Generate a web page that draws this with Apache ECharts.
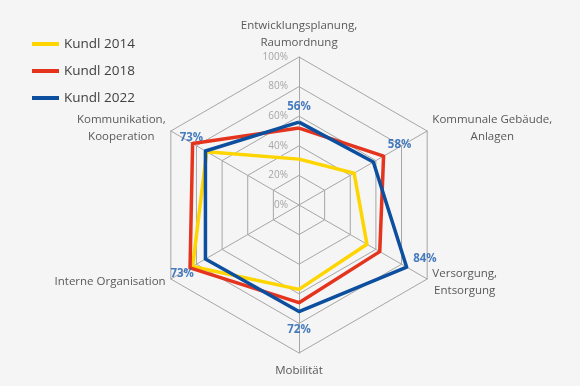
<!DOCTYPE html>
<html><head><meta charset="utf-8">
<script src="https://cdn.jsdelivr.net/npm/echarts@6/dist/echarts.min.js"></script>
<style>html,body{margin:0;padding:0;background:#f5f5f5}#c{width:580px;height:386px}</style>
</head><body><div id="c"></div>
<script>
// indicators in counter-clockwise order starting at the top
const categories = ['Entwicklungsplanung,\nRaumordnung','Kommunikation,\nKooperation','Interne Organisation','Mobilität','Versorgung,\nEntsorgung','Kommunale Gebäude,\nAnlagen'];
const seriesNames = ['Kundl 2014','Kundl 2018','Kundl 2022'];
const values2014 = [31,72,83,57,53,43];
const values2018 = [52,83,85,66,63,66];
const values2022 = [56,73,73,72,84,58];
const tickValues = [0,20,40,60,80,100];

// style only: label placement for the 2022 value labels
const labelPlacement = [
  {position:'top', offset:[0,-4]},
  {position:'top', offset:[-14,-2]},
  {position:'left', offset:[-6,15]},
  {position:'bottom', offset:[0,7]},
  {position:'right', offset:[1,-8]},
  {position:'right', offset:[9,-17]}
];
const colors = ['#FFD500','#E5341E','#0D4F9F'];
const font = 'Open Sans';

const chart = echarts.init(document.getElementById('c'));
chart.setOption({
  backgroundColor:'#f5f5f5',
  animation:false,
  color: colors,
  legend:{
    orient:'vertical', left:27, top:32, icon:'rect', itemWidth:27, itemHeight:4, itemGap:13,
    data: seriesNames,
    textStyle:{fontSize:13.5, color:'#404040', fontFamily:font}
  },
  radar:{
    center:[299,205], radius:148, startAngle:90, splitNumber:tickValues.length-1, shape:'polygon',
    indicator: categories.map(n=>({name:n, min:tickValues[0], max:tickValues[tickValues.length-1]})),
    nameGap:6,
    axisName:{
      color:'#595959', fontSize:11.5, fontFamily:font,
      formatter: n => n.split('\n').map(l=>(l==='Mobilität'?'{b|':'{a|')+l+'}').join('\n'),
      rich:{
        a:{align:'center', color:'#595959', fontSize:11.5, fontFamily:font, lineHeight:17},
        b:{align:'center', color:'#595959', fontSize:11.5, fontFamily:font, lineHeight:17, padding:[7,0,0,0]}
      }
    },
    splitLine:{lineStyle:{color:'#a6a6a6', width:1}},
    splitArea:{show:false},
    axisLine:{lineStyle:{color:'#a6a6a6', width:1}},
    axisTick:{show:false},
    axisLabel:{show:false}
  },
  polar:{center:[299,205], radius:148},
  angleAxis:{
    type:'category', data:categories, startAngle:90, clockwise:false, boundaryGap:false,
    axisLine:{show:false}, axisTick:{show:false}, axisLabel:{show:false}, splitLine:{show:false}
  },
  radiusAxis:{
    min:tickValues[0], max:tickValues[tickValues.length-1], interval:tickValues[1]-tickValues[0],
    axisLine:{show:false}, axisTick:{show:false}, splitLine:{show:false},
    axisLabel:{formatter:'{value}%', color:'#a6a6a6', fontSize:10, fontFamily:font, margin:11}
  },
  series:[
    {
      type:'radar', symbol:'none',
      lineStyle:{width:3.5},
      data:[
        {name:seriesNames[0], value:values2014, lineStyle:{color:colors[0], width:3.5}, itemStyle:{color:colors[0]}},
        {name:seriesNames[1], value:values2018, lineStyle:{color:colors[1], width:3.5}, itemStyle:{color:colors[1]}},
        {name:seriesNames[2], value:values2022, lineStyle:{color:colors[2], width:3.5}, itemStyle:{color:colors[2]}}
      ]
    },
    {
      type:'scatter', coordinateSystem:'polar', silent:true, z:10,
      symbolSize:1, itemStyle:{color:'rgba(0,0,0,0)'},
      data: values2022.map((v,i)=>({value:[v,i], label:labelPlacement[i]})),
      label:{show:true, formatter:p=>p.value[0]+'%', color:'#1A5DB0', fontWeight:'bold', fontSize:11.5, fontFamily:font}
    }
  ]
});
</script></body></html>
